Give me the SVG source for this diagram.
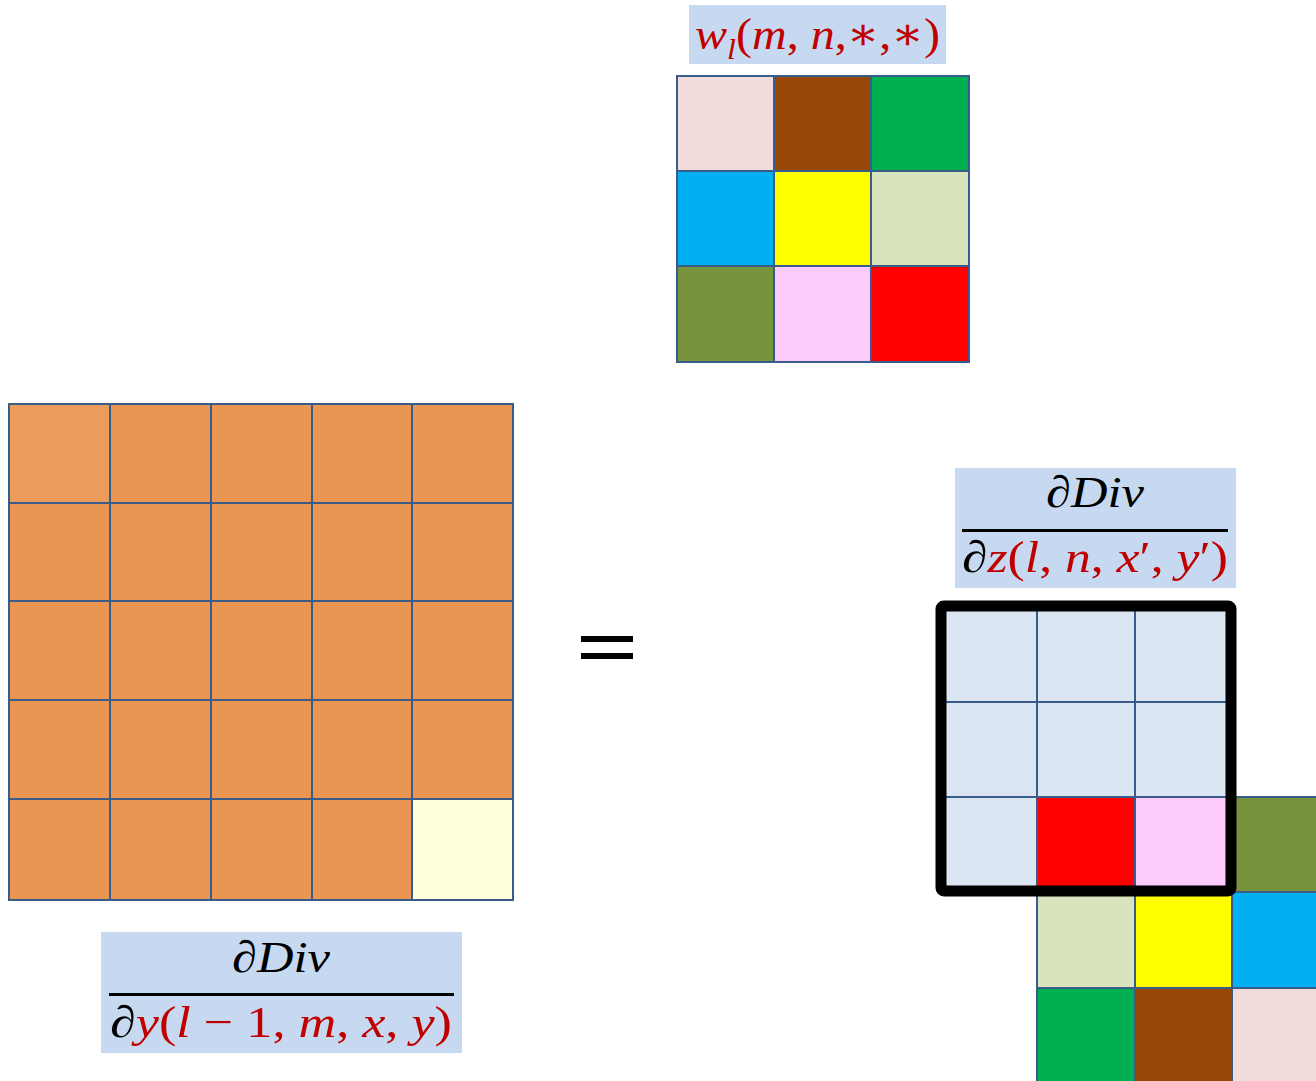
<svg xmlns="http://www.w3.org/2000/svg" width="1316" height="1081" viewBox="0 0 1316 1081">
<style>
.c{stroke:#385D8A;stroke-width:2}
.lbl{fill:#C6D9F1}
.m{font-family:"Liberation Serif","DejaVu Serif",serif;font-style:italic;font-size:45px}
.u{font-style:normal}
.k{fill:#000}
.r{fill:#C00000}
.o{fill:#EA9652}
</style>
<rect width="1316" height="1081" fill="#fff"/>
<g id="kernel-label">
<rect class="lbl" x="689" y="5" width="257" height="59"/>
<text class="m r" x="695" y="49" textLength="245" lengthAdjust="spacingAndGlyphs">w<tspan font-size="30" dy="10">l</tspan><tspan class="u" dy="-10">(</tspan>m<tspan class="u">, </tspan>n<tspan class="u">,∗,∗)</tspan></text>
</g>
<g id="kernel">
<rect class="c" x="677" y="76" width="97" height="95" fill="#F2DCDB"/>
<rect class="c" x="774" y="76" width="97" height="95" fill="#974806"/>
<rect class="c" x="871" y="76" width="98" height="95" fill="#00B050"/>
<rect class="c" x="677" y="171" width="97" height="95" fill="#00B0F0"/>
<rect class="c" x="774" y="171" width="97" height="95" fill="#FFFF00"/>
<rect class="c" x="871" y="171" width="98" height="95" fill="#D7E4BD"/>
<rect class="c" x="677" y="266" width="97" height="96" fill="#77933C"/>
<rect class="c" x="774" y="266" width="97" height="96" fill="#FCCBFC"/>
<rect class="c" x="871" y="266" width="98" height="96" fill="#FF0000"/>
</g>
<g id="input-grid">
<rect class="c" x="9" y="404" width="101" height="99" fill="#EB9C5B"/>
<rect class="c o" x="110" y="404" width="101" height="99"/>
<rect class="c o" x="211" y="404" width="101" height="99"/>
<rect class="c o" x="312" y="404" width="100" height="99"/>
<rect class="c o" x="412" y="404" width="101" height="99"/>
<rect class="c o" x="9" y="503" width="101" height="98"/>
<rect class="c o" x="110" y="503" width="101" height="98"/>
<rect class="c o" x="211" y="503" width="101" height="98"/>
<rect class="c o" x="312" y="503" width="100" height="98"/>
<rect class="c o" x="412" y="503" width="101" height="98"/>
<rect class="c o" x="9" y="601" width="101" height="99"/>
<rect class="c o" x="110" y="601" width="101" height="99"/>
<rect class="c o" x="211" y="601" width="101" height="99"/>
<rect class="c o" x="312" y="601" width="100" height="99"/>
<rect class="c o" x="412" y="601" width="101" height="99"/>
<rect class="c o" x="9" y="700" width="101" height="99"/>
<rect class="c o" x="110" y="700" width="101" height="99"/>
<rect class="c o" x="211" y="700" width="101" height="99"/>
<rect class="c o" x="312" y="700" width="100" height="99"/>
<rect class="c o" x="412" y="700" width="101" height="99"/>
<rect class="c o" x="9" y="799" width="101" height="101"/>
<rect class="c o" x="110" y="799" width="101" height="101"/>
<rect class="c o" x="211" y="799" width="101" height="101"/>
<rect class="c o" x="312" y="799" width="100" height="101"/>
<rect class="c" x="412" y="799" width="101" height="101" fill="#FFFFDD"/>
</g>
<g id="input-label">
<rect class="lbl" x="101" y="932" width="361" height="121"/>
<text class="m k" x="232" y="972" textLength="98" lengthAdjust="spacingAndGlyphs">∂Div</text>
<rect x="109" y="993" width="345" height="3" fill="#000"/>
<text class="m k" x="110" y="1037" textLength="342" lengthAdjust="spacingAndGlyphs">∂<tspan class="r">y<tspan class="u">(</tspan>l<tspan class="u"> − 1, </tspan>m<tspan class="u">, </tspan>x<tspan class="u">, </tspan>y<tspan class="u">)</tspan></tspan></text>
</g>
<g id="equals">
<rect x="581" y="636" width="52" height="6" fill="#000"/>
<rect x="581" y="653" width="52" height="6" fill="#000"/>
</g>
<g id="output-label">
<rect class="lbl" x="955" y="468" width="281" height="120"/>
<text class="m k" x="1046" y="507" textLength="98" lengthAdjust="spacingAndGlyphs">∂Div</text>
<rect x="962" y="529" width="266" height="3" fill="#000"/>
<text class="m k" x="962" y="572" textLength="266" lengthAdjust="spacingAndGlyphs">∂<tspan class="r">z<tspan class="u">(</tspan>l<tspan class="u">, </tspan>n<tspan class="u">, </tspan>x<tspan class="u">′, </tspan>y<tspan class="u">′)</tspan></tspan></text>
</g>
<g id="output-grid">
<rect class="c" x="940" y="607" width="97" height="95" fill="#DCE6F2"/>
<rect class="c" x="1037" y="607" width="98" height="95" fill="#DCE6F2"/>
<rect class="c" x="1135" y="607" width="97" height="95" fill="#DCE6F2"/>
<rect class="c" x="940" y="702" width="97" height="95" fill="#DCE6F2"/>
<rect class="c" x="1037" y="702" width="98" height="95" fill="#DCE6F2"/>
<rect class="c" x="1135" y="702" width="97" height="95" fill="#DCE6F2"/>
<rect class="c" x="940" y="797" width="97" height="95" fill="#DCE6F2"/>
</g>
<g id="flipped-kernel">
<rect class="c" x="1037" y="797" width="98" height="95" fill="#FF0000"/>
<rect class="c" x="1135" y="797" width="97" height="95" fill="#FCCBFC"/>
<rect class="c" x="1232" y="797" width="98" height="95" fill="#77933C"/>
<rect class="c" x="1037" y="892" width="98" height="96" fill="#D7E4BD"/>
<rect class="c" x="1135" y="892" width="97" height="96" fill="#FFFF00"/>
<rect class="c" x="1232" y="892" width="98" height="96" fill="#00B0F0"/>
<rect class="c" x="1037" y="988" width="98" height="96" fill="#00B050"/>
<rect class="c" x="1135" y="988" width="97" height="96" fill="#974806"/>
<rect class="c" x="1232" y="988" width="98" height="96" fill="#F2DCDB"/>
</g>
<g id="window">
<rect x="941" y="606" width="290" height="285" rx="3" fill="none" stroke="#000" stroke-width="11"/>
</g>
</svg>
